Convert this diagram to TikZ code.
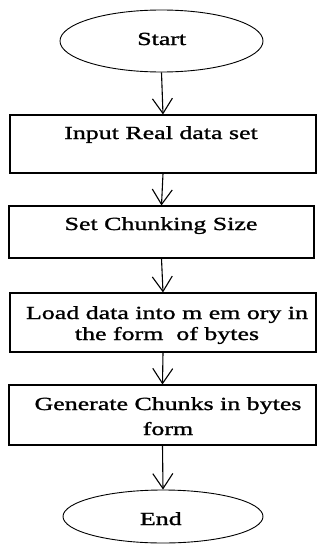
\documentclass[tikz,border=0pt]{standalone}
\usepackage{fontspec}
\setmainfont{Liberation Serif}[FakeStretch=1.4,FakeBold=1.3]
\usetikzlibrary{shapes.geometric,arrows.meta}
\begin{document}
\begin{tikzpicture}[x=1pt,y=-1pt,
  flow/.style={draw=black,line width=1.1pt,inner sep=0pt},
  term/.style={flow,ellipse,line width=0.9pt},
  stepbox/.style={flow,rectangle,minimum width=306pt},
  lbl/.style={inner sep=0pt,align=center,font=\fontsize{18.5}{21}\selectfont,anchor=base},
  conn/.style={draw=black,line width=1.1pt,-{Straight Barb[length=15pt,width=20pt,line width=1.1pt]}}]
\useasboundingbox (0,0) rectangle (328,554);
\node[term,minimum width=203pt,minimum height=62pt] (start) at (161.5,41) {};
\node[stepbox,minimum height=58pt] (b1) at (163,144) {};
\node[stepbox,minimum width=305pt,minimum height=52pt] (b2) at (161.5,232) {};
\node[stepbox,minimum height=59pt] (b3) at (163,322.5) {};
\node[stepbox,minimum width=307pt,minimum height=60pt] (b4) at (162.5,415) {};
\node[term,minimum width=200pt,minimum height=53pt] (end) at (163,516.5) {};
\node[lbl] (tstart) at (161.7,45) {Start};
\node[lbl] (t1) at (161,139) {Input Real data set};
\node[lbl] (t2) at (161,230) {Set Chunking Size};
\node[lbl] (t3) at (167,340) {Load data into m em ory in\\the form \ of bytes};
\node[lbl,font=\fontsize{18.5}{25}\selectfont] (t4) at (168,435) {Generate Chunks in bytes\\form};
\node[lbl] (tend) at (160.8,525) {End};
\draw[conn] (start.south) -- (b1.north);
\draw[conn] (b1.south) -- (b2.north);
\draw[conn] (b2.south) -- (b3.north);
\draw[conn] (b3.south) -- (b4.north);
\draw[conn] (b4.south) -- (end.north);
\end{tikzpicture}
\end{document}
